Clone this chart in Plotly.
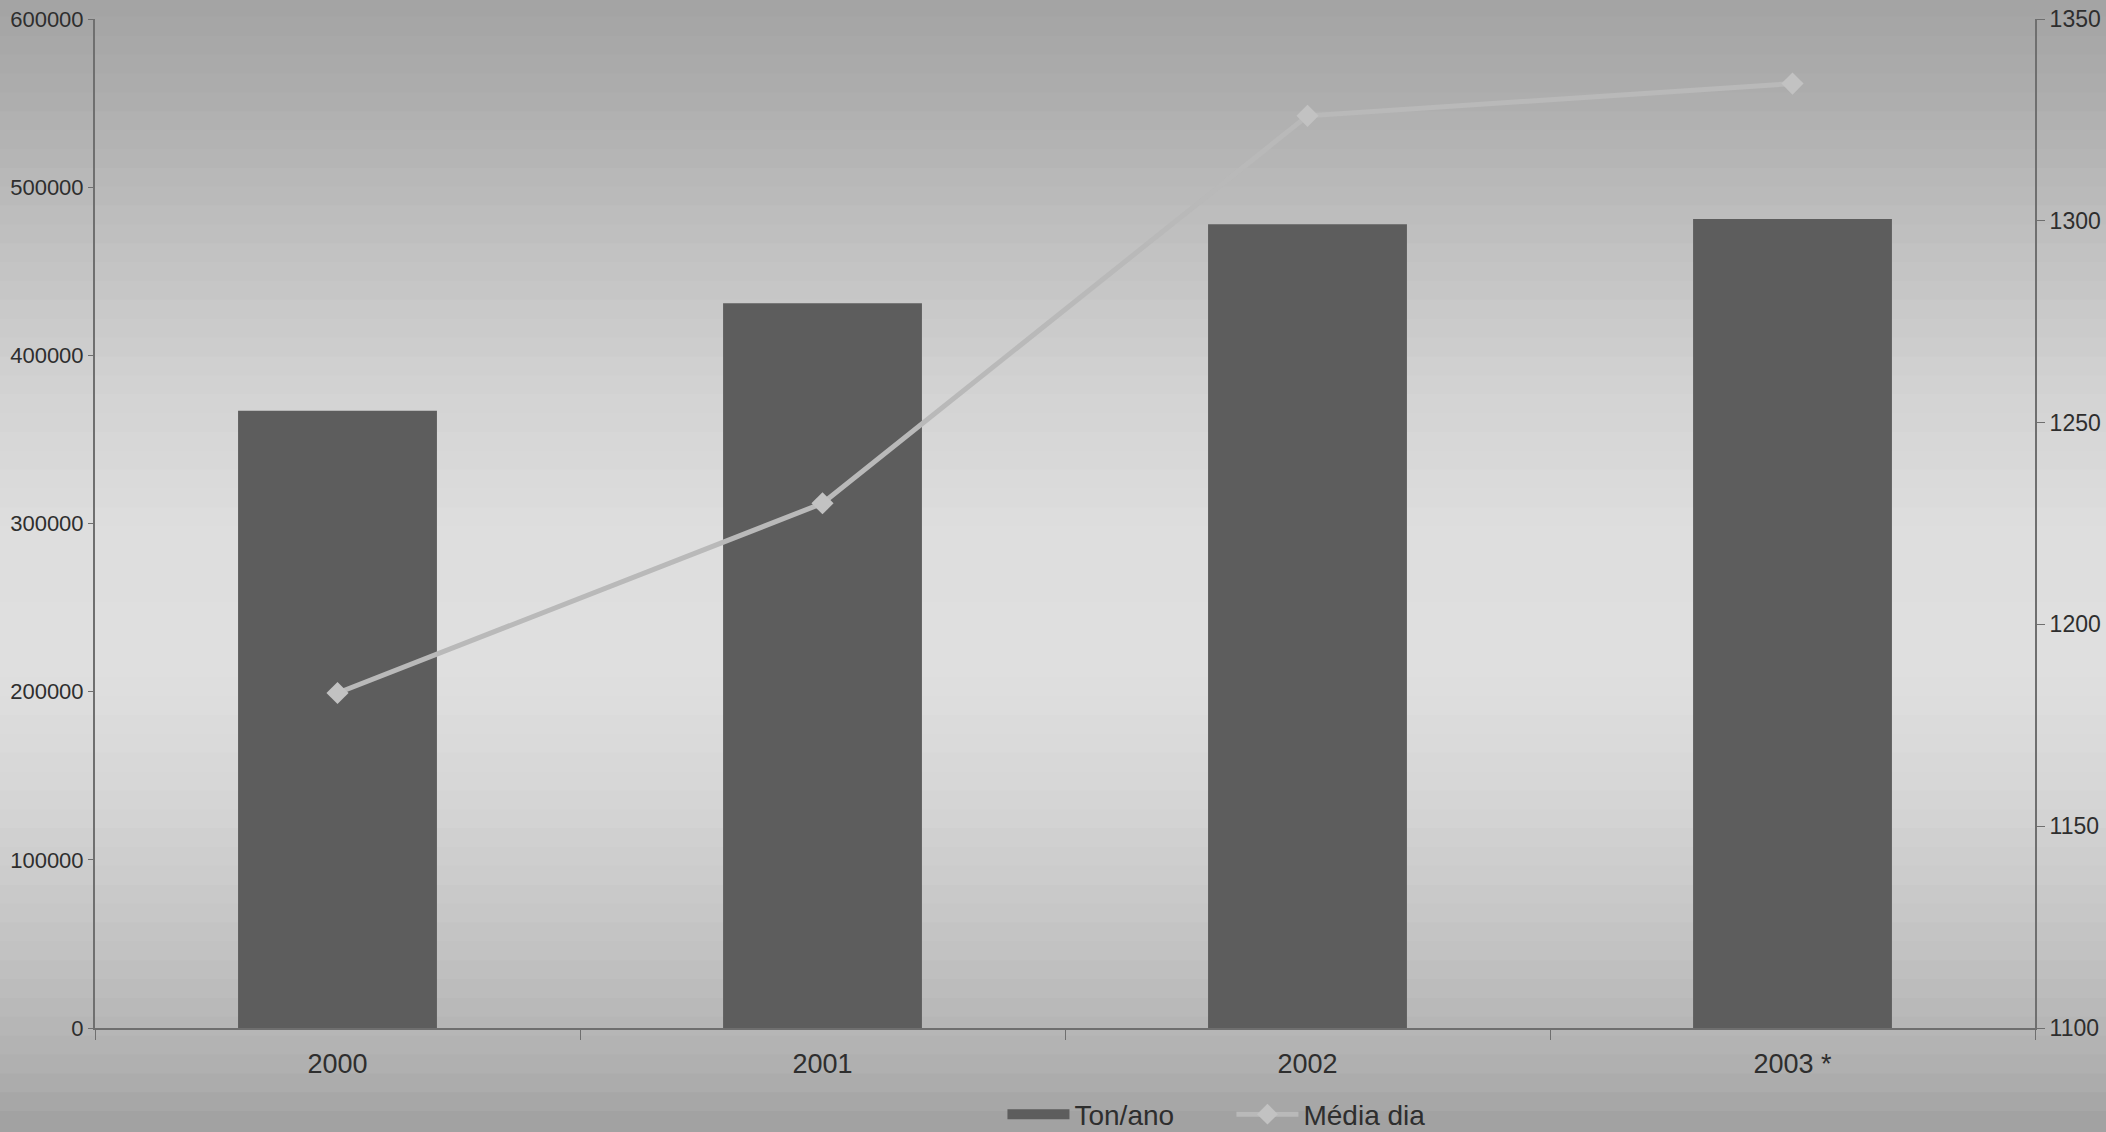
import plotly.graph_objects as go
import numpy as np

# ---- data ----
anos = ["2000", "2001", "2002", "2003 *"]
ton_ano = [367000, 431000, 478000, 481000]
media_dia = [1183, 1230, 1326, 1334]

left_ticks = [0, 100000, 200000, 300000, 400000, 500000, 600000]
right_ticks = [1100, 1150, 1200, 1250, 1300, 1350]

W, H = 2106, 1132
m_l, m_r, m_t, m_b = 95, 71, 19, 104

bar_color = "#5d5d5d"
line_color = "#b9b9b9"

fig = go.Figure()
fig.add_trace(go.Bar(
    x=anos, y=ton_ano, name="Ton/ano", width=0.41,
    marker=dict(color=bar_color, line=dict(width=0)),
    yaxis="y", showlegend=False,
))
# legend entry for the bars drawn as a wide swatch (as in the original)
fig.add_trace(go.Scatter(
    x=[None], y=[None], name="Ton/ano", mode="lines",
    line=dict(color=bar_color, width=13), yaxis="y", showlegend=True,
))
fig.add_trace(go.Scatter(
    x=anos, y=media_dia, name="Média dia", mode="lines+markers",
    line=dict(color=line_color, width=5),
    marker=dict(symbol="diamond", size=17, color="#c2c2c2"),
    yaxis="y2",
))

# background gradient (style only)
stops_px = [0, 130, 270, 400, 530, 670, 800, 940, 1070, 1132]
stops_g = [163, 178, 196, 212, 222, 224, 214, 196, 176, 160]
shapes = []
n = 60
ph = H - m_t - m_b
pw = W - m_l - m_r
for i in range(n):
    y0p = H * i / n
    y1p = H * (i + 1) / n
    g = int(np.interp((y0p + y1p) / 2, stops_px, stops_g))
    shapes.append(dict(
        type="rect", xref="paper", yref="paper", layer="below",
        x0=-m_l / pw - 0.01, x1=1 + m_r / pw + 0.01,
        y0=(H - m_b - y1p) / ph - 0.002, y1=(H - m_b - y0p) / ph + 0.002,
        fillcolor=f"rgb({g},{g},{g})", line=dict(width=0),
    ))

font_family = "Liberation Sans, Arial, sans-serif"
axis_color = "#6f6f6f"
txt = "#2e2e2e"

fig.update_layout(
    width=W, height=H,
    margin=dict(l=m_l, r=m_r, t=m_t, b=m_b, autoexpand=False),
    paper_bgcolor="rgb(165,165,165)",
    plot_bgcolor="rgba(0,0,0,0)",
    font=dict(family=font_family, color=txt),
    shapes=shapes,
    showlegend=True,
    legend=dict(
        orientation="h", xref="container", yref="container",
        x=0.476, xanchor="left", y=0.0155, yanchor="middle",
        font=dict(size=28, color=txt), bgcolor="rgba(0,0,0,0)",
        itemwidth=62, entrywidth=152, entrywidthmode="pixels",
        tracegroupgap=0, traceorder="normal",
    ),
    xaxis=dict(
        type="category", range=[-0.5, 3.5], automargin=False,
        showline=True, linecolor=axis_color, linewidth=2,
        ticks="outside", tickson="boundaries", ticklen=10, tickcolor=axis_color,
        ticklabelstandoff=11,
        tickfont=dict(size=27, color=txt), showgrid=False, zeroline=False,
    ),
    yaxis=dict(
        range=[0, 600000], tickvals=left_ticks, ticktext=[str(v) for v in left_ticks],
        automargin=False,
        showline=True, linecolor=axis_color, linewidth=2,
        ticks="outside", ticklen=5, tickcolor=axis_color,
        tickfont=dict(size=22, color=txt), showgrid=False, zeroline=False,
    ),
    yaxis2=dict(
        range=[1100, 1350], tickvals=right_ticks, overlaying="y", side="right",
        automargin=False,
        showline=True, linecolor=axis_color, linewidth=2,
        ticks="outside", ticklen=8, tickcolor=axis_color,
        tickfont=dict(size=23, color=txt), showgrid=False, zeroline=False,
    ),
)

fig.write_html("out.html", config={"displayModeBar": False},
               post_script="document.body.style.margin='0';")
